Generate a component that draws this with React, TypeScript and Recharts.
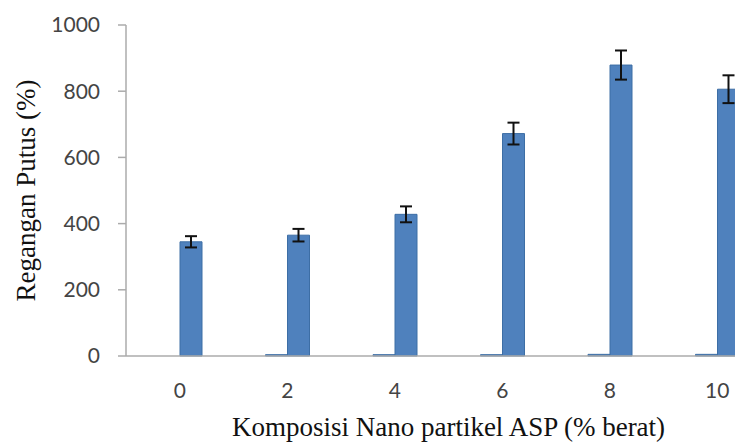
import { BarChart, Bar, XAxis, YAxis, ErrorBar } from 'recharts';

const categories = ['0', '2', '4', '6', '8', '10'];
const baseValues = [0, 4, 4, 4, 5, 5];
const strainValues = [345, 365, 428, 672, 879, 806];
const strainErrors = [17, 19, 24, 33, 44, 42];
const yTicks = [0, 200, 400, 600, 800, 1000];

const BAR_FILL = '#4f81bd';
const BAR_STROKE = '#3d6ea5';
const TICK_STYLE = { fill: '#444', fontSize: 21, fontFamily: 'Lato, sans-serif' };
const TITLE_FONT = "'Liberation Serif', 'Times New Roman', serif";

const data = categories.map((c, i) => ({
  cat: c,
  base: baseValues[i],
  strain: strainValues[i],
  err: strainErrors[i],
}));

export default function App() {
  return (
    <div style={{ position: 'absolute', left: 0, top: 0, width: 735, height: 448, overflow: 'hidden', background: '#fff' }}>
      <BarChart
        width={771}
        height={448}
        data={data}
        margin={{ top: 25, right: 0, left: 0, bottom: 0 }}
        barSize={22}
        barGap={0}
      >
        <XAxis
          dataKey="cat"
          height={92}
          tick={TICK_STYLE}
          tickLine={false}
          tickSize={0}
          tickMargin={27}
          axisLine={{ stroke: '#ababab', strokeWidth: 1.5 }}
          label={{
            content: ({ viewBox }: any) => (
              <text
                x={viewBox.x + viewBox.width / 2}
                y={viewBox.y + 80}
                textAnchor="middle"
                fontFamily={TITLE_FONT}
                fontSize={27}
                fill="#111"
              >
                Komposisi Nano partikel ASP (% berat)
              </text>
            ),
          }}
        />
        <YAxis
          width={126}
          domain={[0, 1000]}
          ticks={yTicks}
          interval={0}
          tick={TICK_STYLE}
          tickSize={8}
          tickMargin={18}
          tickLine={{ stroke: '#ababab', strokeWidth: 1.5 }}
          axisLine={{ stroke: '#ababab', strokeWidth: 1.5 }}
          label={{
            content: ({ viewBox }: any) => {
              const cx = 26;
              const cy = viewBox.y + viewBox.height / 2;
              return (
                <text
                  transform={`translate(${cx},${cy}) rotate(-90)`}
                  textAnchor="middle"
                  dominantBaseline="central"
                  fontFamily={TITLE_FONT}
                  fontSize={27}
                  fill="#111"
                >
                  Regangan Putus (%)
                </text>
              );
            },
          }}
        />
        <Bar dataKey="base" fill={BAR_FILL} stroke={BAR_STROKE} strokeWidth={1} isAnimationActive={false} />
        <Bar dataKey="strain" fill={BAR_FILL} stroke={BAR_STROKE} strokeWidth={1} isAnimationActive={false}>
          <ErrorBar dataKey="err" width={6} stroke="#111" strokeWidth={2} direction="y" />
        </Bar>
      </BarChart>
    </div>
  );
}
